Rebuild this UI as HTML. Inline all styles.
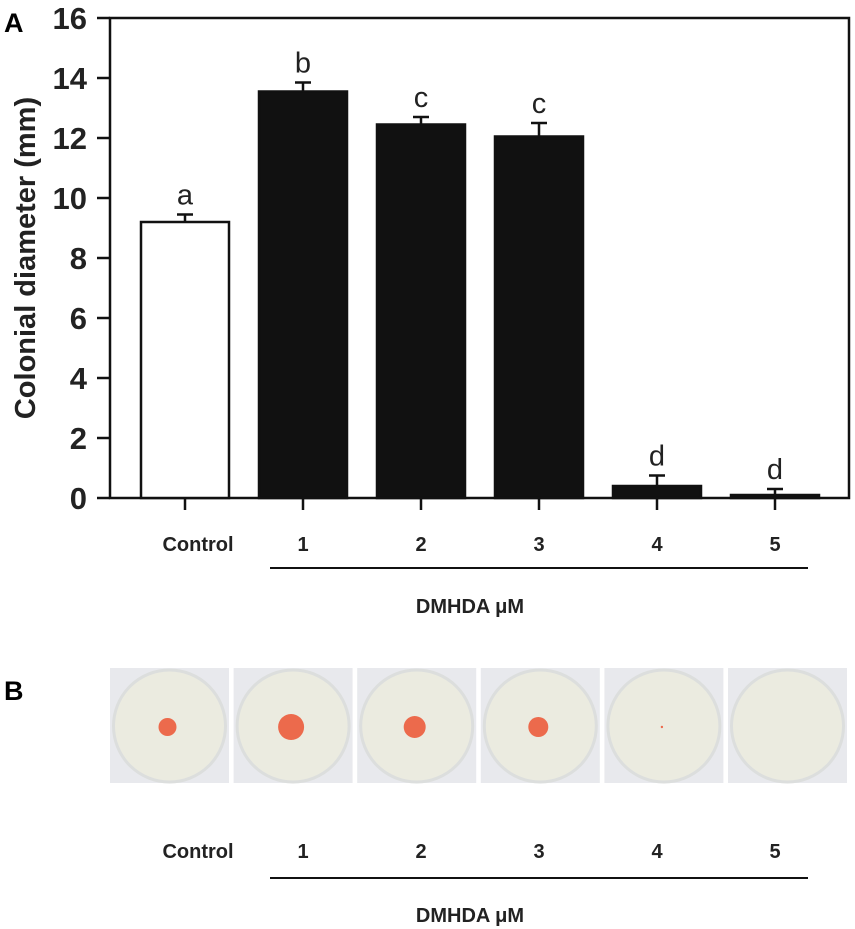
<!DOCTYPE html>
<html><head><meta charset="utf-8"><style>
body{margin:0;background:#fff;}
svg{display:block;font-family:"Liberation Sans",Arial,sans-serif;}
</style></head><body>
<svg id="fig" width="855" height="929" viewBox="0 0 855 929">
<g id="chart"></g>
<g id="dishes"></g>
</svg>
<script>
const categories=["Control","1","2","3","4","5"];
const values=[9.2,13.55,12.45,12.05,0.4,0.1];
const errors=[0.25,0.3,0.25,0.45,0.35,0.2];
const letters=["a","b","c","c","d","d"];
const yTicks=[0,2,4,6,8,10,12,14,16];
const colonySizes=[9,13,11,10,1.2,0];

const NS="http://www.w3.org/2000/svg";
const X0=110,X1=849,Y0=498,Y1=18,YMAX=16;
const y=v=>Y0-(v/YMAX)*(Y0-Y1);
const xc=i=>185+i*118;
const BW=88;
function mk(tag,attrs,parent,text){const e=document.createElementNS(NS,tag);for(const k in attrs)e.setAttribute(k,attrs[k]);if(text!==undefined)e.textContent=text;parent.appendChild(e);return e;}
const g=document.getElementById('chart');
let e;
e=mk('text',{x:4,y:32,'font-size':27,'font-weight':'bold'},g,'A');


e=mk('rect',{x:X0,y:Y1,width:X1-X0,height:Y0-Y1,fill:'none',stroke:'#111','stroke-width':2.5},g);


yTicks.forEach(t=>{
 e=mk('line',{x1:X0-13,x2:X0,y1:y(t),y2:y(t),stroke:'#111','stroke-width':2.5},g);
 
 
 e=mk('text',{x:87,y:y(t)+11,'font-size':31,'font-weight':'bold','text-anchor':'end',fill:'#222'},g,String(t));
 
 
});
e=mk('text',{transform:'translate(35,258) rotate(-90)','font-size':29,'font-weight':'bold','text-anchor':'middle',fill:'#222'},g,'Colonial diameter (mm)');


categories.forEach((c,i)=>{
 const cx=xc(i);
 e=mk('rect',{x:cx-BW/2,y:y(values[i]),width:BW,height:Y0-y(values[i]),fill:i===0?'#fff':'#111',stroke:'#111','stroke-width':2.5},g);
 
 
 const top=y(values[i]+errors[i]);
 e=mk('path',{d:`M${cx},${y(values[i])}V${top}M${cx-8},${top}H${cx+8}`,stroke:'#111','stroke-width':2.5,fill:'none'},g);
 
 
 e=mk('text',{x:cx,y:top-10,'font-size':29,'text-anchor':'middle',fill:'#222'},g,letters[i]);
 
 
 e=mk('line',{x1:cx,x2:cx,y1:Y0,y2:Y0+12,stroke:'#111','stroke-width':2.5},g);
 
 
 e=mk('text',{x:i===0?198:cx,y:551,'font-size':20,'font-weight':'bold','text-anchor':'middle',fill:'#222'},g,c);
 
 
});
e=mk('line',{x1:270,x2:808,y1:568,y2:568,stroke:'#111','stroke-width':2},g);


e=mk('text',{x:470,y:613,'font-size':20,'font-weight':'bold','text-anchor':'middle',fill:'#222'},g,'DMHDA μM');



const d=document.getElementById('dishes');
e=mk('text',{x:4,y:700,'font-size':27,'font-weight':'bold'},d,'B');


categories.forEach((c,i)=>{
 const x=110+i*123.6, w=119, cx=x+w/2, cy=726;
 e=mk('rect',{x:x,y:668,width:w,height:115,fill:'#e8e9ed'},d);
 
 
 e=mk('circle',{cx:cx,cy:cy,r:56,fill:'#ebebe0',stroke:'#dcdedd','stroke-width':3},d);
 
 
 if(colonySizes[i]>0){
  e=mk('circle',{cx:cx-2,cy:cy+1,r:colonySizes[i],fill:'#ec6a4c'},d);
  
  
 }
 e=mk('text',{x:i===0?198:xc(i),y:858,'font-size':20,'font-weight':'bold','text-anchor':'middle',fill:'#222'},d,c);
 
 
});
e=mk('line',{x1:270,x2:808,y1:878,y2:878,stroke:'#111','stroke-width':2},d);


e=mk('text',{x:470,y:922,'font-size':20,'font-weight':'bold','text-anchor':'middle',fill:'#222'},d,'DMHDA μM');


</script>
</body></html>
